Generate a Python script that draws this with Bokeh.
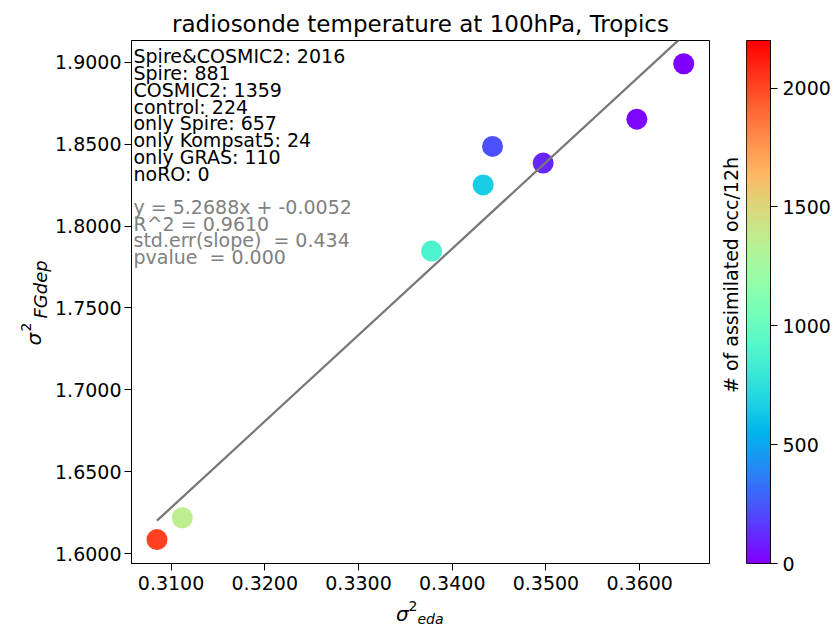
import numpy as np
from bokeh.plotting import figure
from bokeh.models import (Range1d, FixedTicker, PrintfTickFormatter, Label,
                          LinearColorMapper, ColumnDataSource, Spacer)
from bokeh.layouts import row, column
from bokeh.embed import file_html
from bokeh.resources import INLINE

# ---------------- data ----------------
names = ["Spire&COSMIC2", "Spire", "COSMIC2", "control", "only Spire",
         "only Kompsat5", "only GRAS", "noRO"]
counts = [2016, 881, 1359, 224, 657, 24, 110, 0]
sigma_eda = [0.3085, 0.3378, 0.3112, 0.3443, 0.3433, 0.3597, 0.3497, 0.3647]
sigma_fgdep = [1.6087, 1.7847, 1.6220, 1.8486, 1.8251, 1.8652, 1.8384, 1.8990]

slope = 5.2688
intercept = -0.0052
r_squared = 0.9610
stderr_slope = 0.434
pvalue = 0.000

title_text = "radiosonde temperature at 100hPa, Tropics"
x_ticks = [0.31, 0.32, 0.33, 0.34, 0.35, 0.36]
y_ticks = [1.60, 1.65, 1.70, 1.75, 1.80, 1.85, 1.90]
cbar_ticks = [0, 500, 1000, 1500, 2000]
cbar_low, cbar_high = 0, 2200
cbar_label = "# of assimilated occ/12h"

FONT = "DejaVu Sans"
TXT = "19px"


def rainbow_palette(n=256):
    cols = []
    for t in np.linspace(0, 1, n):
        r = min(1.0, abs(2 * t - 0.5))
        g = np.sin(np.pi * t)
        b = max(np.cos(np.pi * t / 2), 0.0)
        cols.append("#%02x%02x%02x" % (int(round(r * 255)), int(round(g * 255)),
                                       int(round(b * 255))))
    return cols


palette = rainbow_palette()
mapper = LinearColorMapper(palette=palette, low=cbar_low, high=cbar_high)

TOP_H = 598
B_TOP, B_BOT = 40, 35


def blank_fig(w, h, top=0, bottom=0):
    f = figure(width=w, height=h, output_backend="svg", toolbar_location=None,
               x_range=Range1d(0, 1), y_range=Range1d(0, 1),
               x_axis_type=None, y_axis_type=None, min_border=0,
               min_border_left=0, min_border_right=0, min_border_top=top,
               min_border_bottom=bottom)
    f.outline_line_color = None
    f.grid.visible = False
    f.background_fill_color = "white"
    f.border_fill_color = "white"
    return f


def lab(fig, x, y, text, size, italic=False, angle=0.0, align="left", color="black"):
    fig.add_layout(Label(x=x, y=y, x_units="screen", y_units="screen", text=text,
                         angle=angle, text_align=align, text_baseline="alphabetic",
                         text_font=FONT, text_font_size=size,
                         text_font_style="italic" if italic else "normal",
                         text_color=color))


# ---------------- main figure ----------------
p = figure(width=668, height=TOP_H, output_backend="svg", toolbar_location=None,
           x_range=Range1d(0.30578, 0.36745), y_range=Range1d(1.5941, 1.9132),
           title=title_text, min_border_left=77, min_border_right=11,
           min_border_top=B_TOP, min_border_bottom=B_BOT)
p.title.text_font = FONT
p.title.text_font_size = "23px"
p.title.text_font_style = "normal"
p.title.align = "center"
p.title.standoff = 8
p.title.text_color = "black"
p.grid.visible = False
p.outline_line_color = "black"
p.outline_line_width = 1
p.background_fill_color = "white"
p.border_fill_color = "white"

for ax, ticks in ((p.xaxis, x_ticks), (p.yaxis, y_ticks)):
    ax.ticker = FixedTicker(ticks=ticks)
    ax.formatter = PrintfTickFormatter(format="%.4f")
    ax.major_label_text_font = FONT
    ax.major_label_text_font_size = TXT
    ax.major_label_text_color = "black"
    ax.major_tick_out = 7
    ax.major_tick_in = 0
    ax.minor_tick_out = 0
    ax.minor_tick_in = 0
    ax.axis_line_color = "black"
    ax.major_tick_line_color = "black"
p.xaxis.major_label_standoff = 5
p.yaxis.major_label_standoff = 3

src = ColumnDataSource(dict(x=sigma_eda, y=sigma_fgdep, c=counts))
p.scatter("x", "y", source=src, size=21, marker="circle",
          fill_color={"field": "c", "transform": mapper}, line_color=None)

fit_x = [min(sigma_eda), max(sigma_eda)]
fit_y = [slope * v + intercept for v in fit_x]
p.line(fit_x, fit_y, line_color="#787878", line_width=2.3)

# annotation text (screen units relative to the frame)
lines_black = ["%s: %d" % (n, c) for n, c in zip(names, counts)]
for i, t in enumerate(lines_black):
    lab(p, 2, 507.7 - 16.9 * i, t, TXT)
lines_grey = ["y = %.4fx + %.4f" % (slope, intercept),
              "R^2 = %.4f" % r_squared,
              "std.err(slope)\u00a0 = %.3f" % stderr_slope,
              "pvalue\u00a0 = %.3f" % pvalue]
for i, t in enumerate(lines_grey):
    lab(p, 2, 356.7 - 16.7 * i, t, TXT, color="#808080")

# ---------------- y-axis label panel ----------------
ylab = blank_fig(52, TOP_H, B_TOP, B_BOT)
lab(ylab, 33, 218, "σ", "20px", italic=True, angle=np.pi / 2)
lab(ylab, 25, 232, "2", "14px", angle=np.pi / 2)
lab(ylab, 40, 245, "FGdep", "18px", italic=True, angle=np.pi / 2)

# ---------------- x-axis label panel ----------------
xlab = blank_fig(668, 32)
lab(xlab, 343.5, 17, "σ", "20px", italic=True)
lab(xlab, 356, 25, "2", "14px")
lab(xlab, 365, 12, "eda", "14px", italic=True)

# ---------------- colorbar label panel ----------------
cblab = blank_fig(26, TOP_H, B_TOP, B_BOT)
lab(cblab, 10.5, 288.5, cbar_label, TXT, angle=np.pi / 2, align="center")

# ---------------- colorbar ----------------
cb = figure(width=87, height=TOP_H, output_backend="svg", toolbar_location=None,
            x_range=Range1d(0, 1), y_range=Range1d(cbar_low, cbar_high),
            x_axis_type=None, y_axis_location="right", min_border_left=0,
            min_border_right=61, min_border_top=B_TOP, min_border_bottom=B_BOT)
cb.grid.visible = False
cb.outline_line_color = "black"
cb.outline_line_width = 1
cb.background_fill_color = "white"
cb.border_fill_color = "white"
grad = np.linspace(cbar_low, cbar_high, 256).reshape(256, 1)
cb.image(image=[grad], x=0, y=cbar_low, dw=1, dh=cbar_high - cbar_low,
         color_mapper=mapper)
ya = cb.yaxis[0]
ya.ticker = FixedTicker(ticks=cbar_ticks)
ya.major_label_text_font = FONT
ya.major_label_text_font_size = TXT
ya.major_label_text_color = "black"
ya.major_tick_out = 7
ya.major_tick_in = 0
ya.minor_tick_out = 0
ya.minor_tick_in = 0
ya.axis_line_color = "black"
ya.major_label_standoff = 5

layout = column(row(ylab, p, cblab, cb),
                row(Spacer(width=52, height=32), xlab))
open("out.html", "w").write(file_html(layout, INLINE))
